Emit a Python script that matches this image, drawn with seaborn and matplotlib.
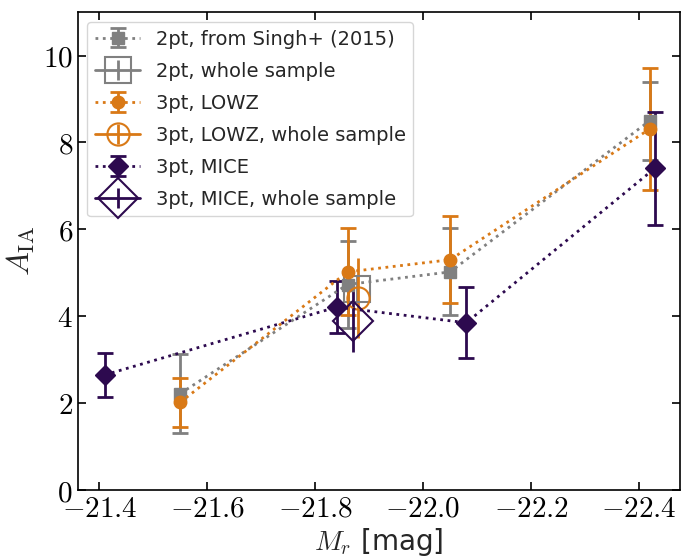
import numpy as np
import matplotlib
matplotlib.use("Agg")
import matplotlib.pyplot as plt
from matplotlib.ticker import FuncFormatter
import seaborn as sns

# ---- data ----
mr_2pt = [-21.55, -21.86, -22.05, -22.42]
a_2pt = [2.22, 4.73, 5.02, 8.50]
e_2pt = [0.90, 1.00, 1.00, 0.90]

mr_2pt_all = [-21.878]
a_2pt_all = [4.62]
e_2pt_all = [0.30]

mr_lowz = [-21.55, -21.86, -22.05, -22.42]
a_lowz = [2.02, 5.02, 5.30, 8.31]
e_lowz = [0.56, 1.00, 1.00, 1.40]

mr_lowz_all = [-21.88]
a_lowz_all = [4.41]
e_lowz_all = [0.92]

mr_mice = [-21.41, -21.84, -22.08, -22.43]
a_mice = [2.65, 4.21, 3.85, 7.41]
e_mice = [0.51, 0.60, 0.82, 1.30]

mr_mice_all = [-21.87]
a_mice_all = [3.90]
e_mice_all = [0.72]

labels = ["2pt, from Singh+ (2015)", "2pt, whole sample",
          "3pt, LOWZ", "3pt, LOWZ, whole sample",
          "3pt, MICE", "3pt, MICE, whole sample"]
xticks = [-21.4, -21.6, -21.8, -22.0, -22.2, -22.4]
yticks = [0, 2, 4, 6, 8, 10]

GRAY = "#808080"
ORANGE = "#d97916"
PURPLE = "#2d0a4f"

sns.set_theme(style="ticks")
plt.rcParams["font.family"] = ["DejaVu Sans"]
plt.rcParams["mathtext.fontset"] = "cm"

fig = plt.figure(figsize=(6.82, 5.59), dpi=100)
ax = fig.add_axes([0.114, 0.1234, 0.883, 0.855])

kw_pts = dict(ls=":", lw=2, elinewidth=2, capsize=6, capthick=2, ms=9)
kw_all = dict(ls="-", lw=2, elinewidth=2, capsize=0, ms=19, mfc="none", mew=1.5)

ax.errorbar(mr_2pt, a_2pt, yerr=e_2pt, marker="s", color=GRAY, label=labels[0], **kw_pts)
ax.errorbar(mr_2pt_all, a_2pt_all, yerr=e_2pt_all, marker="s", color=GRAY, label=labels[1], **kw_all)
ax.errorbar(mr_lowz, a_lowz, yerr=e_lowz, marker="o", color=ORANGE, label=labels[2], **kw_pts)
ax.errorbar(mr_lowz_all, a_lowz_all, yerr=e_lowz_all, marker="o", color=ORANGE, label=labels[3], **{**kw_all, "ms": 16})
ax.errorbar(mr_mice, a_mice, yerr=e_mice, marker="D", color=PURPLE, label=labels[4], **{**kw_pts, "ms": 10})
ax.errorbar(mr_mice_all, a_mice_all, yerr=e_mice_all, marker="D", color=PURPLE, label=labels[5], **{**kw_all, "ms": 20})

ax.set_xlim(-21.36, -22.476)
ax.set_ylim(0, 11)
ax.set_xticks(xticks)
ax.set_yticks(yticks)
ax.xaxis.set_major_formatter(FuncFormatter(lambda v, p: r"$%.1f$" % v))
ax.yaxis.set_major_formatter(FuncFormatter(lambda v, p: r"$%d$" % v))
ax.tick_params(direction="in", top=True, right=True, labelsize=21, length=6, width=1.2, colors="black")
for s in ax.spines.values():
    s.set_color("black")
    s.set_linewidth(1.2)

ax.set_xlabel(r"$M_r$ [mag]", fontsize=20, labelpad=2)
ax.set_ylabel(r"$A_{\rm IA}$", fontsize=23, labelpad=4)

leg = ax.legend(loc="upper left", fontsize=14, frameon=True, fancybox=True,
                handlelength=2.3, borderpad=0.4, labelspacing=0.67)
leg.get_frame().set_edgecolor("#cccccc")

fig.savefig("out.png", dpi=100)
